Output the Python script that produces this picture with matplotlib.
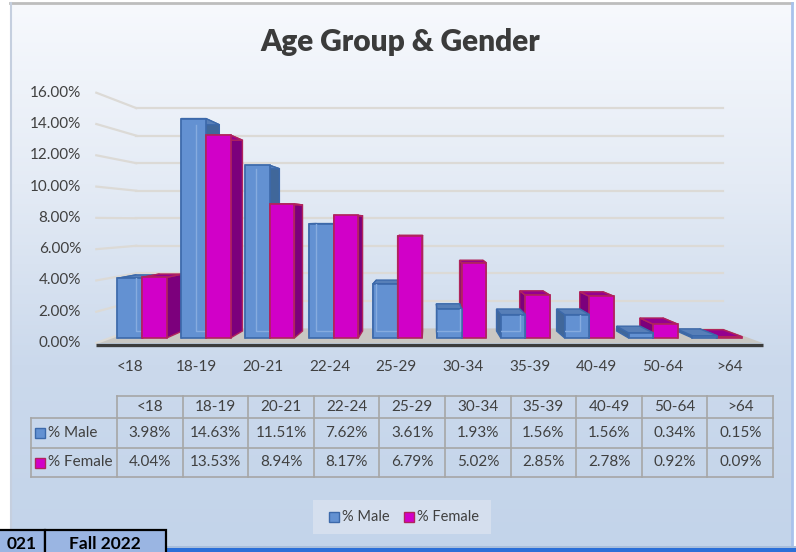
import numpy as np
import matplotlib
matplotlib.use("Agg")
import matplotlib.pyplot as plt
from matplotlib.patches import Polygon, Rectangle
from matplotlib.colors import LinearSegmentedColormap

plt.rcParams['font.family'] = ['Lato', 'DejaVu Sans']

# ---- data ----
groups = ["<18", "18-19", "20-21", "22-24", "25-29", "30-34", "35-39", "40-49", "50-64", ">64"]
male = [3.98, 14.63, 11.51, 7.62, 3.61, 1.93, 1.56, 1.56, 0.34, 0.15]
female = [4.04, 13.53, 8.94, 8.17, 6.79, 5.02, 2.85, 2.78, 0.92, 0.09]
series = ["% Male", "% Female"]
yticks = [0, 2, 4, 6, 8, 10, 12, 14, 16]

# ---- look ----
TXT = "#404040"
MALE = dict(front="#6391d2", side="#40679a", top="#577fb8", edge="#3c69aa", inner="#86abdf")
FEM = dict(front="#d100c8", side="#7c007c", top="#95008f", edge="#b0245c", inner=None)

W, H = 796, 552
X0, DX, Y0, DY = 142, 63.9, 338, 15.0   # bar-front plane: pixel of (0, 0%) and px per unit
VX, VY = 4.5, 7.8                        # vanishing point (data)
S_LAB, S_BAR, S_WALL = 1.043, 0.94, 0.918
XL, XR = -0.5, 9.5
BW = 0.385


def P(x, y, s):
    return (VX + (x - VX) * s, VY + (y - VY) * s)


fig = plt.figure(figsize=(W / 100, H / 100), dpi=100)
fig.patch.set_facecolor("white")

# background layer in pixel coords
bg = fig.add_axes([0, 0, 1, 1])
bg.set_xlim(0, W); bg.set_ylim(H, 0); bg.set_axis_off()
grad = LinearSegmentedColormap.from_list("bg", ["#f7f9fd", "#e4ebf5", "#cbd9ec", "#c3d4ea"])
g = np.linspace(0, 1, 256)[:, None]
bg.imshow(g, cmap=grad, extent=[10, 792, 546, 3], aspect="auto", zorder=0)
bg.plot([10, 792], [3, 3], color="#bdbdbd", lw=2, zorder=1)
bg.plot([10.5, 10.5], [3, 546], color="#c5cfdf", lw=1.5, zorder=1)
bg.plot([791.5, 791.5], [3, 546], color="#a9c2ec", lw=2, zorder=1)
bg.add_patch(Rectangle((166, 545.5), 640, 2, fc="#a8bedc", ec="none", zorder=1))
bg.add_patch(Rectangle((166, 547.5), 640, 6, fc="#2b6fd8", ec="none", zorder=1))
bg.add_patch(Rectangle((-2, 530), 47, 30, fc="#9ab5e2", ec="black", lw=1.6, zorder=2))
bg.add_patch(Rectangle((45, 530), 121, 30, fc="#9ab5e2", ec="black", lw=1.6, zorder=2))
bg.text(22, 549, "021", ha="center", va="baseline", fontsize=12.5, fontweight="bold", color="black", zorder=3)
bg.text(105, 549, "Fall 2022", ha="center", va="baseline", fontsize=12.5, fontweight="bold", color="black", zorder=3)

bg.text(400, 42, "Age Group & Gender", ha="center", va="center", fontsize=21.5,
        fontweight="heavy", color="#3b3b3b", zorder=3)

# ---- data table ----
cols = [117 + 65.6 * k for k in range(len(groups) + 1)]
rows = [396, 418, 448, 477]
LC = "#a6a6a6"
FS = 11
for k, x in enumerate(cols):
    bg.plot([x, x], [rows[0], rows[-1]], color=LC, lw=1.2, zorder=2)
bg.plot([31, 31], [rows[1], rows[-1]], color=LC, lw=1.2, zorder=2)
bg.plot([cols[0], cols[-1]], [rows[0], rows[0]], color=LC, lw=1.2, zorder=2)
for y in rows[1:]:
    bg.plot([31, cols[-1]], [y, y], color=LC, lw=1.2, zorder=2)
for k, gname in enumerate(groups):
    cx = (cols[k] + cols[k + 1]) / 2
    bg.text(cx, (rows[0] + rows[1]) / 2, gname, ha="center", va="center", fontsize=FS, color=TXT)
    bg.text(cx, (rows[1] + rows[2]) / 2, f"{male[k]:.2f}%", ha="center", va="center", fontsize=FS, color=TXT)
    bg.text(cx, (rows[2] + rows[3]) / 2, f"{female[k]:.2f}%", ha="center", va="center", fontsize=FS, color=TXT)
for r, (name, st) in enumerate(zip(series, [MALE, FEM])):
    cy = (rows[r + 1] + rows[r + 2]) / 2
    bg.add_patch(Rectangle((35, cy - 5), 10, 10, fc=st["front"], ec=st["edge"], lw=1, zorder=3))
    bg.text(48, cy, name, ha="left", va="center", fontsize=FS, color=TXT)

# ---- legend ----
bg.add_patch(Rectangle((313, 500), 178, 34, fc="#d5dfee", ec="none", zorder=1))
for name, st, x in zip(series, [MALE, FEM], [329, 404]):
    bg.add_patch(Rectangle((x, 512), 10, 10, fc=st["front"], ec=st["edge"], lw=1, zorder=3))
    bg.text(x + 13, 517, name, ha="left", va="center", fontsize=10.5, color=TXT)

# ---- 3D-looking plot in data coords ----
ax = fig.add_axes([0, 0, 1, 1])
ax.set_xlim(-X0 / DX, (W - X0) / DX)
ax.set_ylim((Y0 - H) / DY, Y0 / DY)
ax.set_axis_off()
ax.patch.set_alpha(0)

# floor
floor = [P(XL, 0, S_LAB), P(XR, 0, S_LAB), P(XR, 0, S_WALL), P(XL, 0, S_WALL)]
ax.add_patch(Polygon(floor, closed=True, fc="#c9c7c3", ec="none", zorder=1))
fa, fb = P(XL, 0, S_LAB), P(XR, 0, S_LAB)
ax.plot([fa[0], fb[0]], [fa[1] - 0.1, fb[1] - 0.1], color="#3c3c3c", lw=2.4, zorder=2,
        solid_capstyle="butt")

# walls gridlines + y labels
for t in yticks:
    if t > 0:
        a, b = P(XL, t, S_WALL), P(XR, t, S_WALL)
        ax.plot([a[0], b[0]], [a[1], b[1]], color="#dcdad6", lw=1.6, zorder=1)
    c, d = P(XL, t, S_LAB), P(XL, t, S_WALL)
    ax.plot([c[0], d[0]], [c[1], d[1]], color="#dcdad6", lw=1.6, zorder=1)
    ax.text((81 - X0) / DX, c[1], f"{t:.2f}%", ha="right", va="center", fontsize=11, color=TXT)

for i, gname in enumerate(groups):
    lx = P(i, 0, S_LAB)[0]
    ax.text(lx, (Y0 - 367) / DY, gname, ha="center", va="center", fontsize=11, color=TXT)

# bars, far from the vanishing point first
bars = []
for i in range(len(groups)):
    bars.append((i - BW, i, male[i], MALE))
    bars.append((i, i + BW, female[i], FEM))
bars.sort(key=lambda b: -abs((b[0] + b[1]) / 2 - VX))

z = 3
for xl, xr, h, st in bars:
    FL0, FR0, FRh, FLh = (xl, 0), (xr, 0), (xr, h), (xl, h)
    BL0, BR0, BRh, BLh = P(xl, 0, S_BAR), P(xr, 0, S_BAR), P(xr, h, S_BAR), P(xl, h, S_BAR)
    for face, col in [([FR0, FRh, BRh, BR0], st["side"]), ([FL0, FLh, BLh, BL0], st["side"]),
                      ([FLh, FRh, BRh, BLh], st["top"])]:
        ax.add_patch(Polygon(face, closed=True, fc=col, ec=st["edge"], lw=1.0, zorder=z))
    front = Polygon([FL0, FR0, FRh, FLh], closed=True, fc=st["front"], ec=st["edge"], lw=1.2,
                    zorder=z + 0.5)
    ax.add_patch(front)
    if st["inner"]:
        ln, = ax.plot([BLh[0], BL0[0], BR0[0], BRh[0]], [BLh[1], BL0[1], BR0[1], BRh[1]],
                      color=st["inner"], lw=1.0, zorder=z + 0.6)
        ln.set_clip_path(front)
    z += 1

fig.savefig("out.png", dpi=100)
